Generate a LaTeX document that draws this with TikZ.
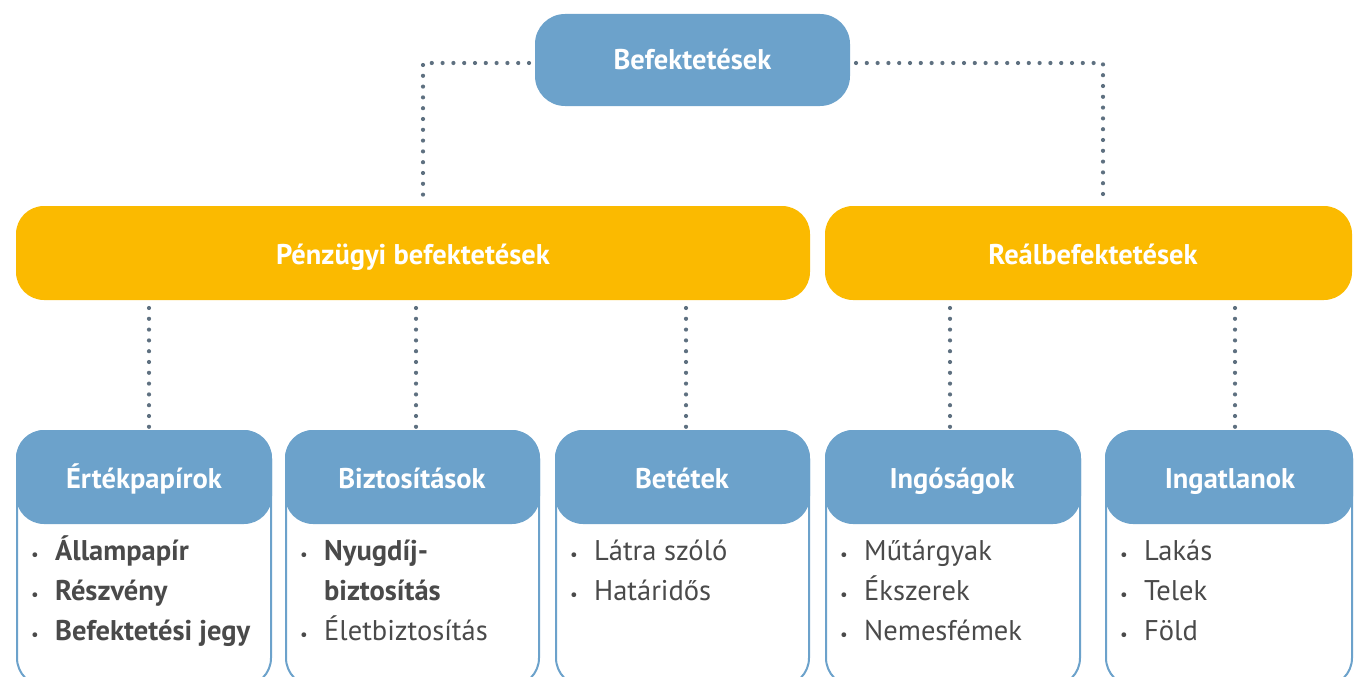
\documentclass[tikz,border=0pt]{standalone}
\usepackage{fontspec}
\setmainfont{PT Sans}
\definecolor{boxblue}{HTML}{6CA2CB}
\definecolor{boxyellow}{HTML}{FBBA00}
\definecolor{dotgray}{HTML}{5E7080}
\definecolor{txtgray}{HTML}{4A4A4A}
\newcommand{\bul}{\makebox[24pt][l]{\fontsize{17}{17}\selectfont\mdseries•}}
\newcommand{\nobul}{\makebox[24pt][l]{}}
\tikzset{
  topbox/.style={fill=boxblue, rounded corners=30pt, draw=none},
  ybox/.style={fill=boxyellow, rounded corners=28pt, draw=none},
  hdr/.style={fill=boxblue, rounded corners=28pt, draw=none},
  outer/.style={draw=boxblue, line width=2pt, fill=white, rounded corners=28pt},
  ttl/.style={text=white, font=\bfseries\fontsize{28.5}{32}\selectfont, anchor=base, inner sep=0pt},
  dotline/.style={draw=dotgray, line width=4.2pt, line cap=round, dash pattern=on 0pt off 10.8pt},
  item/.style={text=txtgray, font=\fontsize{28.5}{40}\selectfont, anchor=base west, align=left, inner sep=0pt},
}
\begin{document}
\begin{tikzpicture}[x=1pt,y=-1pt]
\useasboundingbox (0,0) rectangle (1355,677);
\clip (0,0) rectangle (1355,677);
% top
\fill[topbox] (535,14) rectangle (850,106);
\node[ttl] (top) at (692.5,70) {Befektetések};
\coordinate (topL) at (529,63);
\coordinate (topR) at (856,63);
% yellow
\fill[ybox] (16,206) rectangle (810,300);
\node[ttl] (pf) at (413,264) {Pénzügyi befektetések};
\fill[ybox] (825,206) rectangle (1352,300);
\node[ttl] (rb) at (1093,264) {Reálbefektetések};
\draw[dotline] (topL) -- (423,63) -- (423,204);
\draw[dotline] (topR) -- (1103,63) -- (1103,204);
% bottom boxes
\foreach \x/\w in {16/256, 285/255, 555/255, 825/256, 1105/248}{
  \draw[outer] (\x+1,431) rectangle (\x+\w-1,686);
  \fill[hdr] (\x,430) rectangle (\x+\w,524);
}
\node[ttl] (b1) at (144,488) {Értékpapírok};
\node[ttl] (b2) at (412,488) {Biztosítások};
\node[ttl] (b3) at (682,488) {Betétek};
\node[ttl] (b4) at (952,488) {Ingóságok};
\node[ttl] (b5) at (1230,488) {Ingatlanok};
% connectors
\foreach \x in {149,416,686,950,1235}{
  \draw[dotline] (\x,308) -- (\x,428);
}
% items (anchor = baseline of the last line)
\node[item] (l1) at (31,640) {\bul\textbf{Állampapír}\\\bul\textbf{Részvény}\\\bul\textbf{Befektetési jegy}};
\node[item] (l2) at (300,640) {\bul\textbf{Nyugdíj-}\\\nobul\textbf{biztosítás}\\\bul Életbiztosítás};
\node[item] (l3) at (570,600) {\bul Látra szóló\\\bul Határidős};
\node[item] (l4) at (840,640) {\bul Műtárgyak\\\bul Ékszerek\\\bul Nemesfémek};
\node[item] (l5) at (1120,640) {\bul Lakás\\\bul Telek\\\bul Föld};
\end{tikzpicture}
\end{document}
